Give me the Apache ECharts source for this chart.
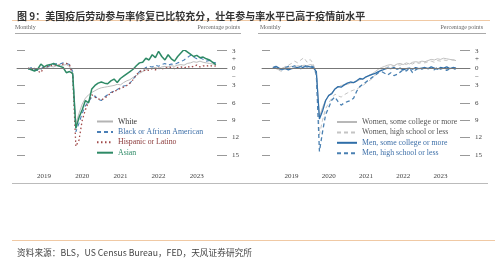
<!DOCTYPE html>
<html>
<head>
<meta charset="utf-8">
<script src="https://cdn.jsdelivr.net/npm/echarts@6/dist/echarts.min.js"></script>
<style>
html, body { margin: 0; padding: 0; background: #fff; }
#chart { width: 500px; height: 258px; }
</style>
</head>
<body>
<div id="chart"></div>
<script>
// monthly gaps vs. pre-pandemic level, Jan 2019 .. Dec 2023 (percentage points)
const white = [
	0.1, -0.2, 0.0, -0.3, -0.1, 0.2, 0.1, 0.3, 0.2, 0.4, 0.3, 0.5,
	0.6, 0.3, -1.0, -9.6, -7.8, -6.2, -5.2, -4.6, -4.2, -3.9, -3.6, -3.4,
	-3.3, -3.2, -3.1, -3.0, -2.8, -2.9, -2.5, -2.2, -2.0, -1.6, -1.3, -0.9,
	-0.6, -0.3, -0.1, 0.0, 0.1, -0.1, 0.2, 0.3, 0.2, 0.4, 0.3, 0.5,
	0.6, 0.5, 0.8, 0.9, 1.1, 1.0, 1.2, 1.0, 0.9, 0.8, 0.7, 0.6
];
const black = [
	-0.2, 0.1, -0.3, -0.4, -0.2, 0.3, 0.2, 0.5, 0.6, 0.8, 0.7, 0.9,
	0.8, 0.6, -0.6, -11.0, -9.5, -7.8, -6.5, -5.8, -5.0, -4.8, -5.4, -5.6,
	-5.0, -4.6, -4.2, -4.0, -3.7, -3.4, -3.1, -3.0, -2.6, -1.9, -1.2, -0.6,
	-0.3, 0.1, 0.3, 0.2, 0.5, 0.3, 0.6, 0.8, 0.5, 0.7, 0.6, 0.9,
	1.1, 1.4, 1.8, 2.2, 1.9, 1.6, 1.8, 1.5, 1.2, 1.3, 1.0, 0.9
];
const hispanic = [
	0.0, -0.3, -0.1, -0.5, -0.8, 0.2, 0.3, 0.5, 0.4, 0.6, 0.5, 0.7,
	0.8, 0.6, -1.2, -13.5, -12.4, -9.0, -7.2, -5.8, -4.6, -5.0, -5.3, -5.5,
	-5.2, -4.8, -4.3, -4.0, -3.8, -3.5, -3.3, -3.0, -2.6, -2.0, -1.2, -0.6,
	-0.5, -0.3, -0.4, -0.1, -0.3, 0.0, -0.2, 0.1, 0.0, 0.2, -0.1, 0.1,
	0.2, 0.0, 0.3, 0.1, 0.3, 0.5, 0.2, 0.4, 0.3, 0.5, 0.3, 0.4
];
const asian = [
	-0.1, -0.3, -0.5, -0.2, 0.7, 0.2, 0.5, 0.6, 0.8, 0.5, 0.3, 0.1,
	-0.8, -0.6, -0.9, -10.4, -8.5, -7.2, -5.6, -6.0, -3.6, -3.0, -2.6, -2.4,
	-2.6, -2.7, -2.2, -1.9, -2.5, -1.8, -1.4, -1.0, -0.6, -0.2, 0.4, 0.9,
	1.0, 1.7, 1.4, 2.3, 1.8, 2.9, 2.0, 1.4, 2.3, 1.6, 1.2, 2.0,
	2.6, 3.2, 2.8, 2.4, 2.0, 2.2, 1.8, 1.9, 1.6, 1.4, 1.0, 0.6
];

const womenCollege = [
	0.2, -0.1, -0.3, 0.0, 0.2, 0.1, 0.3, 0.2, 0.4, 0.3, 0.5, 0.4,
	0.6, 0.5, -0.8, -8.4, -6.8, -5.5, -4.8, -4.2, -3.6, -3.3, -3.0, -2.9,
	-2.8, -2.6, -2.5, -2.3, -2.0, -1.9, -1.6, -1.2, -1.0, -0.6, -0.2, 0.1,
	0.3, 0.5, 0.6, 0.4, 0.7, 0.8, 0.6, 0.9, 0.7, 1.0, 1.1, 1.0,
	1.2, 1.1, 1.3, 1.5, 1.4, 1.6, 1.5, 1.7, 1.6, 1.5, 1.4, 1.3
];
const womenHS = [
	-0.1, 0.2, -0.4, -0.6, 0.3, 0.5, 0.8, 1.2, 0.9, 1.4, 1.8, 1.0,
	1.5, 0.8, -1.5, -11.5, -9.0, -7.0, -6.0, -5.2, -4.5, -4.8, -5.0, -4.6,
	-4.3, -4.0, -3.8, -3.6, -3.3, -3.0, -2.6, -2.2, -1.8, -1.2, -0.7, -0.2,
	0.0, 0.2, 0.4, 0.3, 0.6, 0.5, 0.8, 0.6, 0.9, 0.7, 1.0, 0.8,
	1.0, 0.9, 1.1, 1.2, 1.0, 1.3, 1.2, 1.4, 1.3, 1.5, 1.4, 1.5
];
const menCollege = [
	0.1, 0.3, 0.0, -0.2, -0.1, -0.3, -0.1, 0.0, 0.1, -0.1, 0.2, 0.3,
	0.2, 0.1, -0.6, -8.8, -7.4, -5.6, -4.7, -4.4, -3.6, -3.2, -3.3, -2.9,
	-2.6, -2.4, -2.5, -2.2, -1.8, -1.9, -1.5, -1.3, -1.1, -0.9, -0.6, -0.4,
	-0.2, 0.0, -0.1, 0.1, -0.2, 0.0, -0.3, -0.1, 0.0, -0.2, 0.1, -0.1,
	0.0, 0.1, -0.1, 0.2, 0.0, -0.2, 0.1, 0.0, 0.2, -0.1, 0.1, 0.0
];
const menHS = [
	0.0, 0.2, -0.1, -0.3, 0.1, 0.3, 0.2, 0.4, 0.1, 0.3, 0.5, 0.2,
	0.4, 0.2, -1.0, -14.4, -11.0, -8.0, -6.8, -5.5, -5.0, -5.8, -6.4, -6.0,
	-5.8, -5.6, -5.2, -4.0, -3.2, -2.8, -2.4, -2.0, -1.6, -1.2, -0.8, -0.6,
	-0.9, -1.2, -0.8, -1.3, -1.1, -0.7, -0.3, -0.5, 0.0, -0.8, -0.3, 0.0,
	-0.2, 0.1, -0.1, 0.0, -0.3, 0.1, -0.2, 0.0, -0.4, -0.1, 0.0, -0.3
];

const yearLabels = ["2019", "2020", "2021", "2022", "2023"];
const yTicks = [3, 0, -3, -6, -9, -12, -15];

const serif = "'Liberation Serif', 'DejaVu Serif', serif";
const cjk = "'Noto Sans CJK SC', sans-serif";

function monthRange(y, m, count) {
	const out = [];
	for (let i = 0; i < count; i++) {
		const yy = y + Math.floor((m - 1 + i) / 12);
		const mm = ((m - 1 + i) % 12) + 1;
		out.push(yy + "-" + String(mm).padStart(2, "0"));
	}
	return out;
}

const dataMonths = monthRange(2019, 1, white.length);
const leftMonths = monthRange(2018, 10, 66);
const rightMonths = monthRange(2018, 10, 67);

const pair = (vals) => vals.map((v, i) => [dataMonths[i], v]);

function xAxes(grid, cats, labelMonth) {
	const base = {
		type: "category", gridIndex: grid, data: cats, boundaryGap: true,
		position: "bottom", offset: 13, splitLine: { show: false }
	};
	return [
		Object.assign({}, base, {
			axisLine: { lineStyle: { color: "#888", width: 1 } },
			axisTick: { inside: true, length: 2, interval: 0, lineStyle: { color: "#888" } },
			axisLabel: {
				interval: (i, v) => v.slice(5) === labelMonth && yearLabels.includes(v.slice(0, 4)),
				formatter: (v) => v.slice(0, 4),
				fontFamily: serif, fontSize: 7, color: "#444", margin: 5
			}
		}),
		Object.assign({}, base, {
			axisLine: { show: false },
			axisTick: { inside: true, length: 4, interval: (i, v) => v.slice(5) === "01", lineStyle: { color: "#888" } },
			axisLabel: { show: false }
		}),
		Object.assign({}, base, {
			axisLine: { show: false },
			axisTick: { inside: true, length: 6, interval: (i) => i === 0, lineStyle: { color: "#888" } },
			axisLabel: { show: false }
		})
	];
}

function yAxes(grid) {
	const base = { type: "value", gridIndex: grid, min: -15, max: 3, splitLine: { show: false }, axisLine: { show: false } };
	return [
		Object.assign({}, base, {
			position: "left", interval: 3,
			axisTick: { show: true, inside: true, length: 8, lineStyle: { color: "#999" } },
			axisLabel: { show: false }
		}),
		Object.assign({}, base, {
			position: "right", interval: 3,
			axisTick: { show: true, inside: true, length: 10, lineStyle: { color: "#999" } },
			axisLabel: {
				formatter: (v) => yTicks.includes(v) ? String(Math.abs(v)) : "",
				fontFamily: serif, fontSize: 7, color: "#444", margin: 5
			}
		}),
		Object.assign({}, base, {
			position: "right", interval: 1.5,
			axisTick: { show: false },
			axisLabel: {
				formatter: (v) => v === 1.5 ? "+" : v === -1.5 ? "\u2212" : "",
				fontFamily: serif, fontSize: 7, color: "#444", margin: 5
			}
		})
	];
}

function line(name, vals, x, y, color, width, type) {
	return {
		name, type: "line", data: pair(vals), xAxisIndex: x, yAxisIndex: y,
		symbol: "none", lineStyle: { color, width, type }, itemStyle: { color },
		z: 3
	};
}

const zeroLine = {
	silent: true, symbol: "none", label: { show: false },
	lineStyle: { color: "#777", width: 1, type: "solid" },
	data: [{ yAxis: 0 }]
};

const leftSeries = [
	line("White", white, 0, 0, "#b4b4b4", 0.9, "solid"),
	line("Black or African American", black, 0, 0, "#4a7fb6", 1.1, [4, 3]),
	line("Hispanic or Latino", hispanic, 0, 0, "#a04848", 1.3, [1.5, 2.5]),
	line("Asian", asian, 0, 0, "#2e8a66", 1.5, "solid")
];
leftSeries[0].markLine = zeroLine;

const rightSeries = [
	line("Women, some college or more", womenCollege, 3, 3, "#b8b8b8", 0.9, "solid"),
	line("Women, high school or less", womenHS, 3, 3, "#c4c4c4", 1.0, [4, 3]),
	line("Men, some college or more", menCollege, 3, 3, "#2f6ea8", 1.3, "solid"),
	line("Men, high school or less", menHS, 3, 3, "#4a80b2", 1.3, [4, 3])
];
rightSeries[0].markLine = zeroLine;

const legendBase = {
	orient: "vertical", itemWidth: 16, itemHeight: 8, itemGap: 2.4, padding: 0,
	selectedMode: false, itemStyle: { opacity: 0 },
	textStyle: { fontFamily: serif, fontSize: 7.8 }
};

const chart = echarts.init(document.getElementById("chart"), null, { renderer: "canvas" });
chart.setOption({
	animation: false,
	backgroundColor: "#fff",
	title: [
		{
			text: "图 9：美国疫后劳动参与率修复已比较充分，壮年参与率水平已高于疫情前水平",
			left: 12, top: 6,
			textStyle: { fontFamily: cjk, fontSize: 10, fontWeight: "bold", color: "#333" }
		},
		{
			text: "资料来源：BLS，US Census Bureau，FED，天风证券研究所",
			left: 12, top: 243,
			textStyle: { fontFamily: cjk, fontSize: 8.7, fontWeight: "normal", color: "#444" }
		}
	],
	graphic: [
		{ type: "line", shape: { x1: 12, y1: 20.5, x2: 490, y2: 20.5 }, style: { stroke: "#f0c9a4", lineWidth: 1 } },
		{ type: "text", left: 15, top: 24, style: { text: "Monthly", font: "6px " + serif, fill: "#666" } },
		{ type: "text", right: 260, top: 24, style: { text: "Percentage points", font: "6px " + serif, fill: "#666" } },
		{ type: "text", left: 260, top: 24, style: { text: "Monthly", font: "6px " + serif, fill: "#666" } },
		{ type: "text", right: 17, top: 24, style: { text: "Percentage points", font: "6px " + serif, fill: "#666" } },
		{ type: "line", shape: { x1: 15, y1: 33.5, x2: 241, y2: 33.5 }, style: { stroke: "#aaa", lineWidth: 1 } },
		{ type: "line", shape: { x1: 258, y1: 33.5, x2: 486, y2: 33.5 }, style: { stroke: "#aaa", lineWidth: 1 } },
		{ type: "line", shape: { x1: 12, y1: 183.5, x2: 488, y2: 183.5 }, style: { stroke: "#bbb", lineWidth: 1 } },
		{ type: "line", shape: { x1: 12, y1: 240.5, x2: 495, y2: 240.5 }, style: { stroke: "#f0c9a4", lineWidth: 1 } }
	],
	grid: [
		{ left: 17, top: 50.7, width: 210, height: 104.3 },
		{ left: 262, top: 50.7, width: 208, height: 104.3 }
	],
	xAxis: [].concat(xAxes(0, leftMonths, "06"), xAxes(1, rightMonths, "07")),
	yAxis: [].concat(yAxes(0), yAxes(1)),
	legend: [
		Object.assign({}, legendBase, {
			left: 96, top: 117.5,
			data: [
				{ name: "White", textStyle: { color: "#333" } },
				{ name: "Black or African American", textStyle: { color: "#3d6fa8" } },
				{ name: "Hispanic or Latino", textStyle: { color: "#8b3a3a" } },
				{ name: "Asian", textStyle: { color: "#2e8a66" } }
			]
		}),
		Object.assign({}, legendBase, {
			left: 336, top: 118, itemWidth: 20,
			data: [
				{ name: "Women, some college or more", textStyle: { color: "#555" } },
				{ name: "Women, high school or less", textStyle: { color: "#555" } },
				{ name: "Men, some college or more", textStyle: { color: "#3d6fa8" } },
				{ name: "Men, high school or less", textStyle: { color: "#3d6fa8" } }
			]
		})
	],
	series: leftSeries.concat(rightSeries)
});
</script>
</body>
</html>
